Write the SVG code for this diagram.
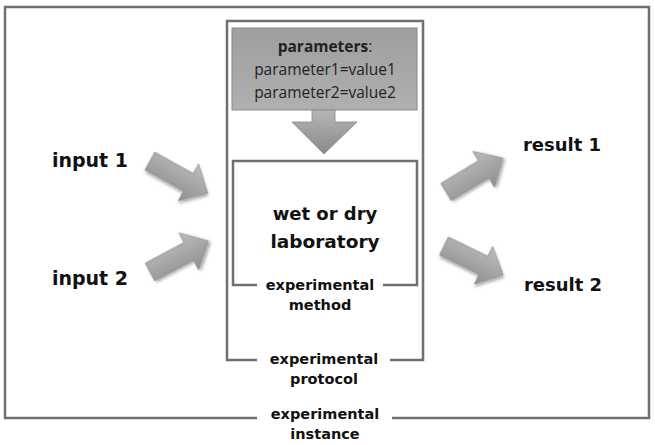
<svg xmlns="http://www.w3.org/2000/svg" width="655" height="445" viewBox="0 0 655 445">
<defs>
<linearGradient id="gArrow" x1="0" y1="0" x2="0" y2="1">
<stop offset="0" stop-color="#bdbdbd"/>
<stop offset="1" stop-color="#8f8f8f"/>
</linearGradient>
<linearGradient id="gBox" x1="0" y1="0" x2="0" y2="1">
<stop offset="0" stop-color="#9e9e9e"/>
<stop offset="1" stop-color="#b0b0b0"/>
</linearGradient>
<linearGradient id="gDown" x1="0" y1="0" x2="0" y2="1">
<stop offset="0" stop-color="#b5b5b5"/>
<stop offset="1" stop-color="#8a8a8a"/>
</linearGradient>
<filter id="sh" x="-20%" y="-20%" width="150%" height="150%">
<feDropShadow dx="1.5" dy="2" stdDeviation="1.5" flood-color="#000" flood-opacity="0.35"/>
</filter>
<path id="blk" d="M0,-10 L44,-10 L44,-21 L66,0 L44,21 L44,10 L0,10 Z"/>
</defs>
<style>
.frame{fill:none;stroke:#707070;stroke-width:2.5}
.lbl{font-family:"DejaVu Sans","Liberation Sans",sans-serif;font-weight:bold;fill:#111;text-anchor:middle}
.par{font-family:"Open Sans","Liberation Sans",sans-serif;fill:#222;text-anchor:middle;font-size:15.5px}
.arr{fill:url(#gArrow);stroke:#8a8a8a;stroke-width:0.8;filter:url(#sh)}
</style>
<rect width="655" height="445" fill="#fff"/>

<g id="instance">
<path class="frame" d="M257,418 L5,418 L5,7 L649,7 L649,418 L392,418"/>
<text class="lbl" x="325" y="419" font-size="14.5">experimental</text>
<text class="lbl" x="325" y="439" font-size="14.5">instance</text>
</g>

<g id="protocol">
<path class="frame" d="M257,360 L227,360 L227,21 L423,21 L423,360 L390,360"/>
<text class="lbl" x="324" y="364" font-size="14.5">experimental</text>
<text class="lbl" x="324" y="384" font-size="14.5">protocol</text>
</g>

<g id="parameters">
<rect x="232" y="28" width="185" height="82" fill="url(#gBox)" stroke="#888" stroke-width="1"/>
<path d="M312,110 L335,110 L335,122 L357,122 L324,154 L292,122 L312,122 Z" fill="url(#gDown)" stroke="#888" stroke-width="0.8"/>
<text class="par" x="325" y="52" font-weight="bold" fill="#111">parameters<tspan font-weight="normal">:</tspan></text>
<text class="par" x="325" y="75">parameter1=value1</text>
<text class="par" x="325" y="98">parameter2=value2</text>
</g>

<g id="method">
<path class="frame" d="M257,285 L233,285 L233,161 L417,161 L417,285 L383,285"/>
<text class="lbl" x="320" y="290" font-size="14.5">experimental</text>
<text class="lbl" x="320" y="310" font-size="14.5">method</text>
</g>

<g id="laboratory">
<text class="lbl" x="325" y="220" font-size="18">wet or dry</text>
<text class="lbl" x="325" y="248" font-size="18.5">laboratory</text>
</g>

<g id="input1"><text class="lbl" x="90" y="167" font-size="19">input 1</text></g>
<g id="input2"><text class="lbl" x="90" y="285" font-size="19">input 2</text></g>
<g id="result1"><text class="lbl" x="562" y="151" font-size="18">result 1</text></g>
<g id="result2"><text class="lbl" x="563" y="291" font-size="18">result 2</text></g>

<g id="connectors">
<use href="#blk" class="arr" transform="translate(150,161) rotate(29)"/>
<use href="#blk" class="arr" transform="translate(150,272) rotate(-28)"/>
<use href="#blk" class="arr" transform="translate(446,192) rotate(-31)"/>
<use href="#blk" class="arr" transform="translate(444,246) rotate(26)"/>
</g>
</svg>
